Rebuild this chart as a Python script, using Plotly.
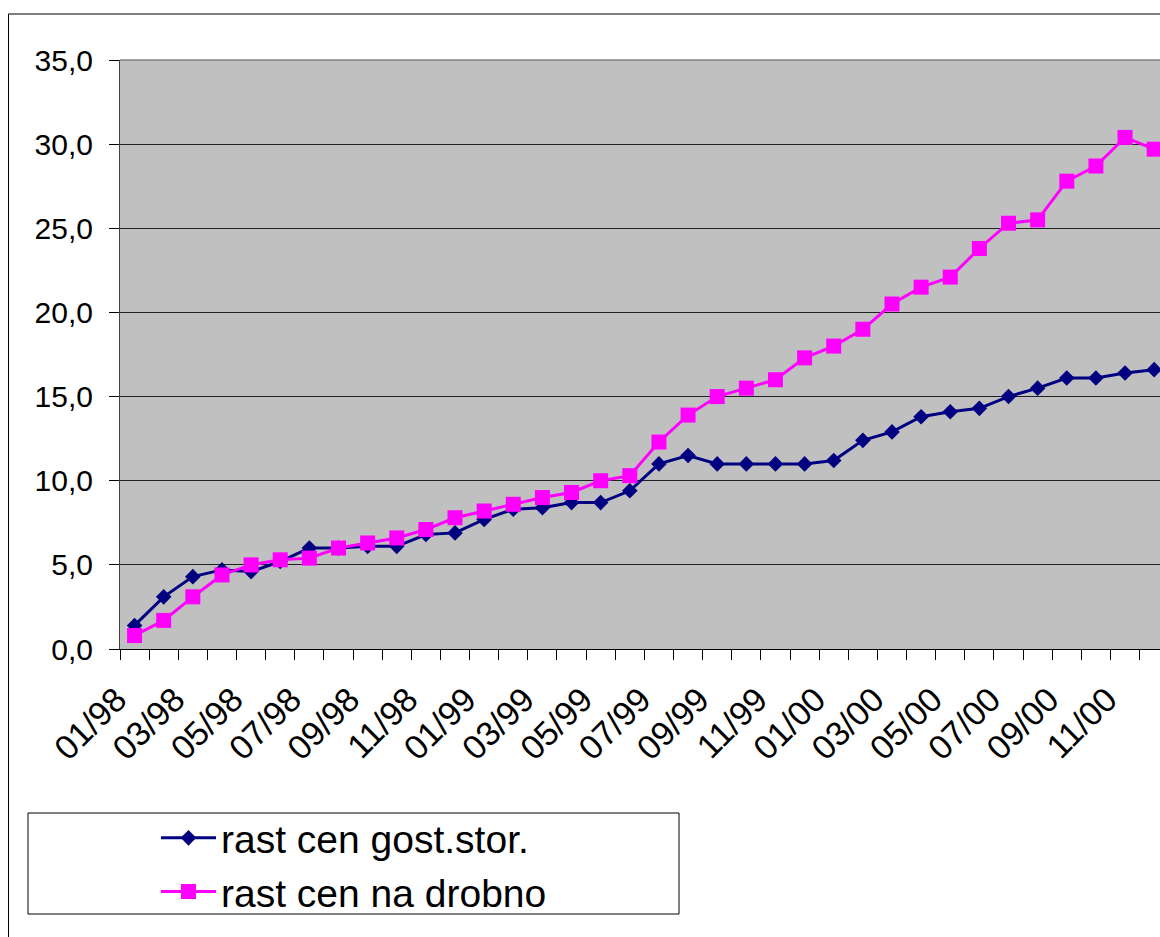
import plotly.graph_objects as go

# Monthly labels 01/98 .. 12/00
months = [f"{m:02d}/{y:02d}" for y in (98, 99, 0) for m in range(1, 13)]

# Cumulative price growth (%)
rast_gost_stor = [1.4, 3.1, 4.3, 4.7, 4.6, 5.2, 6.0, 6.0, 6.1, 6.1, 6.8, 6.9,
                  7.7, 8.3, 8.4, 8.7, 8.7, 9.4, 11.0, 11.5, 11.0, 11.0, 11.0, 11.0,
                  11.2, 12.4, 12.9, 13.8, 14.1, 14.3, 15.0, 15.5, 16.1, 16.1, 16.4, 16.6]
rast_na_drobno = [0.8, 1.7, 3.1, 4.4, 5.0, 5.3, 5.4, 6.0, 6.3, 6.6, 7.1, 7.8,
                  8.2, 8.6, 9.0, 9.3, 10.0, 10.3, 12.3, 13.9, 15.0, 15.5, 16.0, 17.3,
                  18.0, 19.0, 20.5, 21.5, 22.1, 23.8, 25.3, 25.5, 27.8, 28.7, 30.4, 29.7]

series_names = ["rast cen gost.stor.", "rast cen na drobno"]
y_ticks = [0, 5, 10, 15, 20, 25, 30, 35]

W, H = 1160, 937
ML, MT, MR, MB = 120, 60, 0, 288
PW, PH = W - ML - MR, H - MT - MB


def px_x(p):
    return (p - ML) / PW


def px_y(p):
    return (H - MB - p) / PH


FONT = "Liberation Sans, Arial, sans-serif"
x_idx = list(range(len(months)))

fig = go.Figure()
fig.add_trace(go.Scatter(
    x=x_idx, y=rast_gost_stor, name=series_names[0], mode="lines+markers",
    line=dict(color="#000080", width=3),
    marker=dict(symbol="diamond", size=12, color="#000080"),
))
fig.add_trace(go.Scatter(
    x=x_idx, y=rast_na_drobno, name=series_names[1], mode="lines+markers",
    line=dict(color="#FF00FF", width=3),
    marker=dict(symbol="square", size=15, color="#FF00FF"),
))

label_idx = x_idx[::2]
fig.update_xaxes(
    range=[-0.5, 35.2],
    tickmode="array", tickvals=label_idx, ticktext=[months[i] for i in label_idx],
    tickangle=-45, ticks="outside", ticklen=10, tickcolor="rgba(0,0,0,0)",
    ticklabelshift=-18, ticklabelstandoff=6,
    tickfont=dict(family=FONT, size=34, color="#000000"),
    minor=dict(tickmode="array", tickvals=[i - 0.5 for i in x_idx] + [35.5],
               ticks="outside", ticklen=10, tickcolor="#000000", tickwidth=1,
               showgrid=False),
    showgrid=False, zeroline=False,
    showline=True, linecolor="#000000", linewidth=1,
)
fig.update_yaxes(
    range=[0, 35], tickmode="array", tickvals=y_ticks, tickformat=".1f",
    ticks="outside", ticklen=10, tickcolor="#000000", ticklabelstandoff=10,
    tickfont=dict(family=FONT, size=30, color="#000000"),
    showgrid=True, gridcolor="#202020", gridwidth=1, zeroline=False,
    showline=True, linecolor="#404040", linewidth=1,
)

shapes = [
    # outer chart frame
    dict(type="rect", xref="paper", yref="paper",
         x0=px_x(8.5), y0=px_y(1000), x1=px_x(1200), y1=px_y(14),
         line=dict(color="#000000", width=1), fillcolor="rgba(0,0,0,0)", layer="below"),
    # plot area top edge
    dict(type="line", xref="paper", yref="paper", x0=0, x1=1, y0=1, y1=1,
         line=dict(color="#808080", width=1.5)),
    # legend frame
    dict(type="rect", xref="paper", yref="paper",
         x0=px_x(28), y0=px_y(914), x1=px_x(679), y1=px_y(813),
         line=dict(color="#000000", width=1), fillcolor="#FFFFFF", layer="below"),
]

fig.update_layout(
    width=W, height=H,
    margin=dict(l=ML, r=MR, t=MT, b=MB, pad=0),
    paper_bgcolor="#FFFFFF", plot_bgcolor="#C0C0C0",
    separators=",.",
    font=dict(family=FONT, color="#000000"),
    showlegend=True,
    legend=dict(
        x=px_x(156), y=px_y(806), xanchor="left", yanchor="top",
        bgcolor="rgba(0,0,0,0)", borderwidth=0,
        font=dict(family=FONT, size=39, color="#000000"),
        itemwidth=55, tracegroupgap=0,
    ),
    shapes=shapes,
)

fig.write_html("out.html")
